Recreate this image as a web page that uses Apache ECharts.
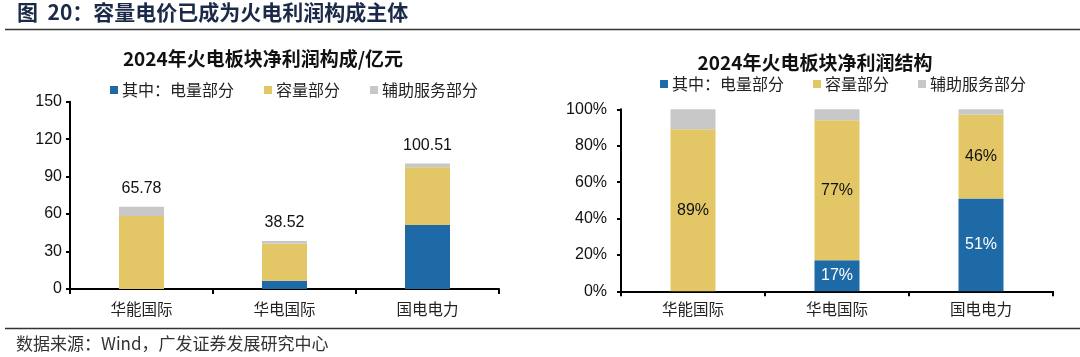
<!DOCTYPE html>
<html>
<head>
<meta charset="utf-8">
<script src="https://cdn.jsdelivr.net/npm/echarts@6/dist/echarts.min.js"></script>
<style>
html,body{margin:0;padding:0;background:#fff;}
#c{width:1080px;height:357px;}
</style>
</head>
<body>
<div id="c"></div>
<script>
// ---- data ----
var categories = ['华能国际', '华电国际', '国电电力'];
var seriesNames = ['其中：电量部分', '容量部分', '辅助服务部分'];
// left chart: 亿元
var energyValues = [0, 6.55, 51.26];
var capacityValues = [58.50, 29.66, 46.23];
var ancillaryValues = [7.28, 2.31, 3.02];
var totalValues = [65.78, 38.52, 100.51];
// right chart: share (%)
var energyShare = [0, 17, 51];
var capacityShare = [89, 77, 46];
var ancillaryShare = [11, 6, 3];
var leftTicks = [0, 30, 60, 90, 120, 150];
var rightTicks = [0, 20, 40, 60, 80, 100];

var colors = ['#1e6aa6', '#e3c767', '#c8c8c8'];
var FONT = '"Liberation Sans", Arial, "Noto Sans CJK SC", sans-serif';
var CJK = '"Noto Sans CJK SC", sans-serif';

var chart = echarts.init(document.getElementById('c'), null, {renderer: 'canvas'});

function catAxis(gi, margin) {
  return {
    type: 'category', gridIndex: gi, data: categories,
    axisLine: {lineStyle: {color: '#000', width: 2}},
    axisTick: {show: true, alignWithLabel: false, length: 5, lineStyle: {color: '#000', width: 2}},
    axisLabel: {color: '#222', fontSize: 15.5, fontFamily: CJK, margin: margin}
  };
}
function valAxis(gi, ticks, fmt, margin) {
  return {
    type: 'value', gridIndex: gi, min: ticks[0], max: ticks[ticks.length - 1],
    interval: ticks[1] - ticks[0],
    splitLine: {show: false},
    axisLine: {show: true, lineStyle: {color: '#000', width: 2}},
    axisTick: {show: true, length: 4, lineStyle: {color: '#000', width: 2}},
    axisLabel: {color: '#111', fontSize: 16, fontFamily: FONT, margin: margin, formatter: fmt}
  };
}

var barW = 45;
var series = [
  {name: seriesNames[0], type: 'bar', stack: 'L', xAxisIndex: 0, yAxisIndex: 0, barWidth: barW,
   data: energyValues, itemStyle: {color: colors[0]}},
  {name: seriesNames[1], type: 'bar', stack: 'L', xAxisIndex: 0, yAxisIndex: 0, barWidth: barW,
   data: capacityValues, itemStyle: {color: colors[1]}},
  {name: seriesNames[2], type: 'bar', stack: 'L', xAxisIndex: 0, yAxisIndex: 0, barWidth: barW,
   data: ancillaryValues, itemStyle: {color: colors[2]},
   label: {show: true, position: 'top', distance: 10, color: '#111', fontSize: 16, fontFamily: FONT,
     formatter: function (p) { return totalValues[p.dataIndex].toFixed(2); }}},
  {name: seriesNames[0], type: 'bar', stack: 'R', xAxisIndex: 1, yAxisIndex: 1, barWidth: barW,
   data: energyShare, itemStyle: {color: colors[0]},
   label: {show: true, position: 'inside', color: '#fff', fontSize: 16, fontFamily: FONT,
     formatter: function (p) { return p.value > 0 ? p.value + '%' : ''; }}},
  {name: seriesNames[1], type: 'bar', stack: 'R', xAxisIndex: 1, yAxisIndex: 1, barWidth: barW,
   data: capacityShare, itemStyle: {color: colors[1]},
   label: {show: true, position: 'inside', color: '#111', fontSize: 16, fontFamily: FONT,
     formatter: function (p) { return p.value > 0 ? p.value + '%' : ''; }}},
  {name: seriesNames[2], type: 'bar', stack: 'R', xAxisIndex: 1, yAxisIndex: 1, barWidth: barW,
   data: ancillaryShare, itemStyle: {color: colors[2]}}
];

function legend(left, top, gap) {
  return {
    left: left, top: top, padding: 0, itemWidth: 8, itemHeight: 8, itemGap: gap, icon: 'rect',
    data: seriesNames, selectedMode: false,
    textStyle: {color: '#222', fontSize: 16, fontFamily: CJK, padding: [0, 0, 0, -1]}
  };
}

chart.setOption({
  animation: false,
  backgroundColor: '#fff',
  title: [
    {text: '2024年火电板块净利润构成/亿元', left: 263, top: 49, padding: 0, textAlign: 'center',
     textStyle: {fontSize: 19, fontWeight: 'bold', color: '#111', fontFamily: CJK}},
    {text: '2024年火电板块净利润结构', left: 815, top: 53, padding: 0, textAlign: 'center',
     textStyle: {fontSize: 19, fontWeight: 'bold', color: '#111', fontFamily: CJK}}
  ],
  legend: [legend(110, 82, 30), legend(660, 76, 29)],
  grid: [
    {left: 70, right: 581, top: 101.7, bottom: 68},
    {left: 621, right: 27, top: 109.3, bottom: 65.7}
  ],
  xAxis: [catAxis(0, 12), catAxis(1, 10)],
  yAxis: [
    valAxis(0, leftTicks, '{value}', 8),
    valAxis(1, rightTicks, '{value}%', 14)
  ],
  series: series,
  graphic: [
    {type: 'text', left: 17, top: 2,
     style: {text: '图  20：容量电价已成为火电利润构成主体', fontSize: 21, fontWeight: 'bold',
       fill: '#1b2a48', fontFamily: CJK}},
    {type: 'line', shape: {x1: 5, y1: 29.5, x2: 1080, y2: 29.5},
     style: {stroke: '#333', lineWidth: 1.5}},
    {type: 'line', shape: {x1: 5, y1: 328.5, x2: 1080, y2: 328.5},
     style: {stroke: '#333', lineWidth: 1.5}},
    {type: 'text', left: 16, top: 335,
     style: {text: '数据来源：Wind，广发证券发展研究中心', fontSize: 17, fill: '#333', fontFamily: CJK}}
  ]
});
</script>
</body>
</html>
